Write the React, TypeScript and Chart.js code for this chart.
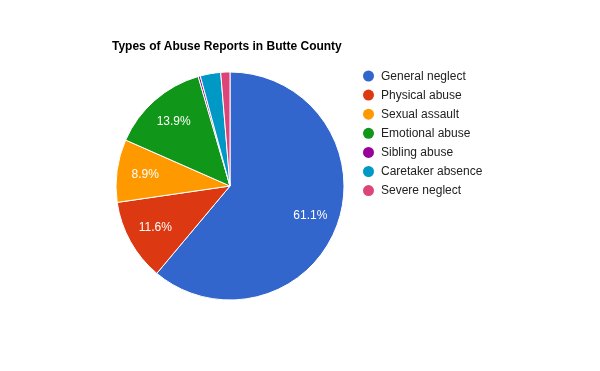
import React, { useEffect, useRef } from "react";
import { Chart, registerables } from "chart.js";

Chart.register(...registerables);

const titleText = "Types of Abuse Reports in Butte County";
const categories = [
  "General neglect",
  "Physical abuse",
  "Sexual assault",
  "Emotional abuse",
  "Sibling abuse",
  "Caretaker absence",
  "Severe neglect",
];
const values = [61.1, 11.6, 8.9, 13.9, 0.3, 2.9, 1.3];
const colors = ["#3366cc", "#dc3912", "#ff9900", "#109618", "#990099", "#0099c6", "#dd4477"];

const FONT = "Arial, 'Liberation Sans', sans-serif";

const overlayPlugin = {
  id: "overlay",
  afterDatasetsDraw(chart: any) {
    const ctx = chart.ctx;
    const meta = chart.getDatasetMeta(0);
    const total = values.reduce((a, b) => a + b, 0);
    ctx.save();
    // slice labels
    ctx.font = `12px ${FONT}`;
    ctx.fillStyle = "#ffffff";
    ctx.textAlign = "center";
    ctx.textBaseline = "middle";
    meta.data.forEach((arc: any, i: number) => {
      const pct = (values[i] / total) * 100;
      if (pct < 5) return;
      const p = arc.getProps(["x", "y", "startAngle", "endAngle", "outerRadius"], true);
      const mid = (p.startAngle + p.endAngle) / 2;
      const r = p.outerRadius * 0.75;
      ctx.fillText(pct.toFixed(1) + "%", p.x + Math.cos(mid) * r, p.y + Math.sin(mid) * r);
    });
    // title
    ctx.font = `bold 12px ${FONT}`;
    ctx.fillStyle = "#000000";
    ctx.textAlign = "left";
    ctx.textBaseline = "alphabetic";
    ctx.fillText(titleText, 112, 50);
    // legend
    ctx.font = `12px ${FONT}`;
    ctx.fillStyle = "#222222";
    ctx.textBaseline = "middle";
    categories.forEach((c, i) => {
      const y = 76 + i * 19.1;
      ctx.beginPath();
      ctx.arc(368.5, y, 5.5, 0, Math.PI * 2);
      ctx.fillStyle = colors[i];
      ctx.fill();
      ctx.fillStyle = "#222222";
      ctx.fillText(c, 381, y + 0.5);
    });
    ctx.restore();
  },
};

export default function App() {
  const ref = useRef<HTMLCanvasElement | null>(null);
  useEffect(() => {
    document.body.style.margin = "0";
    const canvas = ref.current!;
    const chart = new Chart(canvas, {
      type: "pie",
      data: {
        labels: categories,
        datasets: [
          {
            data: values,
            backgroundColor: colors,
            borderColor: "#ffffff",
            borderWidth: 1,
            hoverBorderWidth: 1,
            hoverOffset: 0,
          },
        ],
      },
      options: {
        animation: false,
        responsive: false,
        devicePixelRatio: 1,
        radius: 114,
        layout: { padding: { left: 116, right: 256, top: 72, bottom: 71 } },
        plugins: {
          legend: { display: false },
          title: { display: false },
          tooltip: { enabled: false },
        },
      } as any,
      plugins: [overlayPlugin],
    });
    return () => chart.destroy();
  }, []);
  return (
    <div style={{ width: 600, height: 371, background: "#ffffff" }}>
      <canvas ref={ref} width={600} height={371} style={{ display: "block" }} />
    </div>
  );
}
